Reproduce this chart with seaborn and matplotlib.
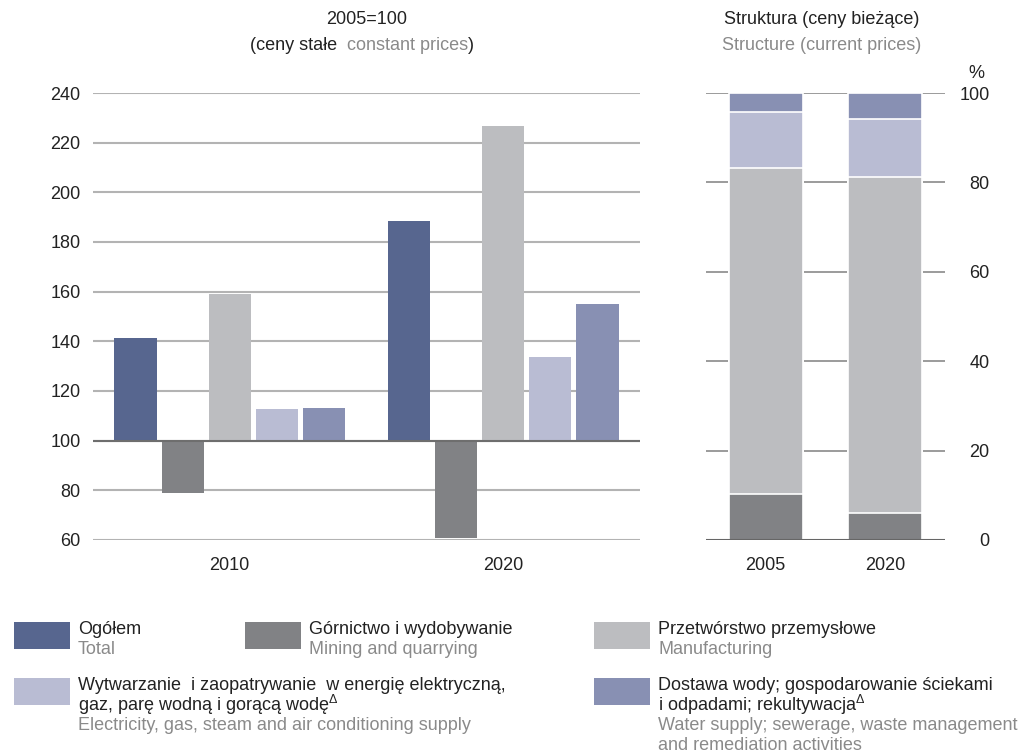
import matplotlib
matplotlib.use("Agg")
import matplotlib.pyplot as plt
import matplotlib.patches as mpatches
import numpy as np
import pandas as pd
import seaborn as sns

sns.set_theme(style="white")
plt.rcParams["font.family"] = ["Liberation Sans", "DejaVu Sans"]
plt.rcParams["mathtext.fontset"] = "custom"
plt.rcParams["mathtext.rm"] = "Liberation Sans"

# --- data -------------------------------------------------------------
SECTORS = ["total", "mining", "manufacturing", "electricity", "water"]
YEARS_INDEX = ["2010", "2020"]
INDEX_2010 = [141.5, 78.9, 159.2, 112.9, 113.3]   # 2005=100
INDEX_2020 = [188.6, 60.7, 226.9, 133.8, 155.2]

YEARS_STRUCT = ["2005", "2020"]
STRUCT_MINING = [10.4, 6.0]
STRUCT_MANUF = [72.9, 75.1]
STRUCT_ELEC = [12.4, 13.1]
STRUCT_WATER = [4.3, 5.8]

PALETTE = {
    "total": "#57668f",
    "mining": "#818285",
    "manufacturing": "#bcbdc0",
    "electricity": "#b9bcd3",
    "water": "#8890b3",
}
GRAY_TXT = "#8a8a8a"
DARK_TXT = "#222222"
FS = 13

fig = plt.figure(figsize=(10.2, 7.55), dpi=100)
ax1 = fig.add_axes([93 / 1020, 1 - 540 / 755, 547 / 1020, 447 / 755])
ax2 = fig.add_axes([706 / 1020, 1 - 540 / 755, 239 / 1020, 447 / 755])

# --- left: index chart, bars drawn from the 100 baseline ---------------
idx_df = pd.DataFrame({
    "year": np.repeat(YEARS_INDEX, len(SECTORS)),
    "sector": SECTORS * len(YEARS_INDEX),
    "index": INDEX_2010 + INDEX_2020,
})
idx_df["delta"] = idx_df["index"] - 100

for v in range(-40, 141, 20):
    ax1.axhline(v, color="#b3b3b3", lw=1.5, zorder=0)
sns.barplot(data=idx_df, x="year", y="delta", hue="sector", order=YEARS_INDEX,
            hue_order=SECTORS, palette=PALETTE, width=0.86, gap=0.1,
            linewidth=0, saturation=1, legend=False, ax=ax1, zorder=2)
ax1.axhline(0, color="#6e6e6e", lw=1.5, zorder=3)
ax1.set_ylim(-40, 140)
ax1.set_xlim(-0.5, 1.5)
ax1.set_yticks(range(-40, 141, 20))
ax1.set_yticklabels([str(v + 100) for v in range(-40, 141, 20)])
ax1.set_xlabel("")
ax1.set_ylabel("")
ax1.tick_params(axis="y", length=0, pad=9, labelsize=FS, colors=DARK_TXT)
ax1.tick_params(axis="x", length=0, pad=12, labelsize=FS, colors=DARK_TXT)
for s in ax1.spines.values():
    s.set_visible(False)

# --- right: structure chart, stacked ----------------------------------
layers = [("mining", STRUCT_MINING), ("manufacturing", STRUCT_MANUF),
          ("electricity", STRUCT_ELEC), ("water", STRUCT_WATER)]
cum = np.zeros(len(YEARS_STRUCT))
cum_layers = []
for name, vals in layers:
    cum = cum + np.array(vals)
    cum_layers.append((name, cum.copy()))

for v in range(20, 101, 20):
    ax2.axhline(v, color="#8a8a8a", lw=1.2, zorder=0)
for name, top in reversed(cum_layers):
    sns.barplot(x=YEARS_STRUCT, y=top, color=PALETTE[name], width=0.62,
                edgecolor="white", linewidth=1.2, ax=ax2, zorder=2,
                saturation=1)
ax2.axhline(0, color="#666666", lw=1.5, zorder=3)
ax2.set_ylim(0, 100)
ax2.set_xlim(-0.5, 1.5)
ax2.yaxis.tick_right()
ax2.set_yticks(range(0, 101, 20))
ax2.tick_params(axis="y", length=0, pad=32, labelsize=FS, colors=DARK_TXT)
ax2.tick_params(axis="x", length=0, pad=12, labelsize=FS, colors=DARK_TXT)
for lbl in ax2.get_yticklabels():
    lbl.set_horizontalalignment("right")
for s in ax2.spines.values():
    s.set_visible(False)
fig.text(968 / 1020, 1 - 73 / 755, "%", fontsize=FS, ha="left", va="center",
         color=DARK_TXT)

# --- titles -----------------------------------------------------------
fig.text(367 / 1020, 1 - 20 / 755, "2005=100", fontsize=FS, ha="center",
         va="center", color=DARK_TXT)
renderer = fig.canvas.get_renderer()
x_px = 250
for piece, col in [("(ceny stałe  ", DARK_TXT), ("constant prices", GRAY_TXT),
                   (")", DARK_TXT)]:
    t = fig.text(x_px / 1020, 1 - 45 / 755, piece, fontsize=FS, ha="left",
                 va="center", color=col)
    x_px += t.get_window_extent(renderer).width
fig.text(822 / 1020, 1 - 20 / 755, "Struktura (ceny bieżące)", fontsize=FS,
         ha="center", va="center", color=DARK_TXT)
fig.text(822 / 1020, 1 - 45 / 755, "Structure (current prices)", fontsize=FS,
         ha="center", va="center", color=GRAY_TXT)

# --- legend -----------------------------------------------------------
legend_items = [
    ("total", 14, 622, ["Ogółem"], ["Total"]),
    ("mining", 245, 622, ["Górnictwo i wydobywanie"], ["Mining and quarrying"]),
    ("manufacturing", 594, 622, ["Przetwórstwo przemysłowe"], ["Manufacturing"]),
    ("electricity", 14, 678,
     ["Wytwarzanie  i zaopatrywanie  w energię elektryczną,",
      "gaz, parę wodną i gorącą wodę$^{\\Delta}$"],
     ["Electricity, gas, steam and air conditioning supply"]),
    ("water", 594, 678,
     ["Dostawa wody; gospodarowanie ściekami",
      "i odpadami; rekultywacja$^{\\Delta}$"],
     ["Water supply; sewerage, waste management",
      "and remediation activities"]),
]
for name, px, py, pl_lines, en_lines in legend_items:
    fig.patches.append(mpatches.Rectangle(
        (px / 1020, 1 - (py + 27) / 755), 56 / 1020, 27 / 755,
        transform=fig.transFigure, facecolor=PALETTE[name], edgecolor="none"))
    y = py + 7
    for line in pl_lines:
        fig.text((px + 64) / 1020, 1 - y / 755, line, fontsize=FS, ha="left",
                 va="center", color=DARK_TXT)
        y += 19.5
    y += 1.5
    for line in en_lines:
        fig.text((px + 64) / 1020, 1 - y / 755, line, fontsize=FS, ha="left",
                 va="center", color=GRAY_TXT)
        y += 20

fig.savefig("out.png", dpi=100)
